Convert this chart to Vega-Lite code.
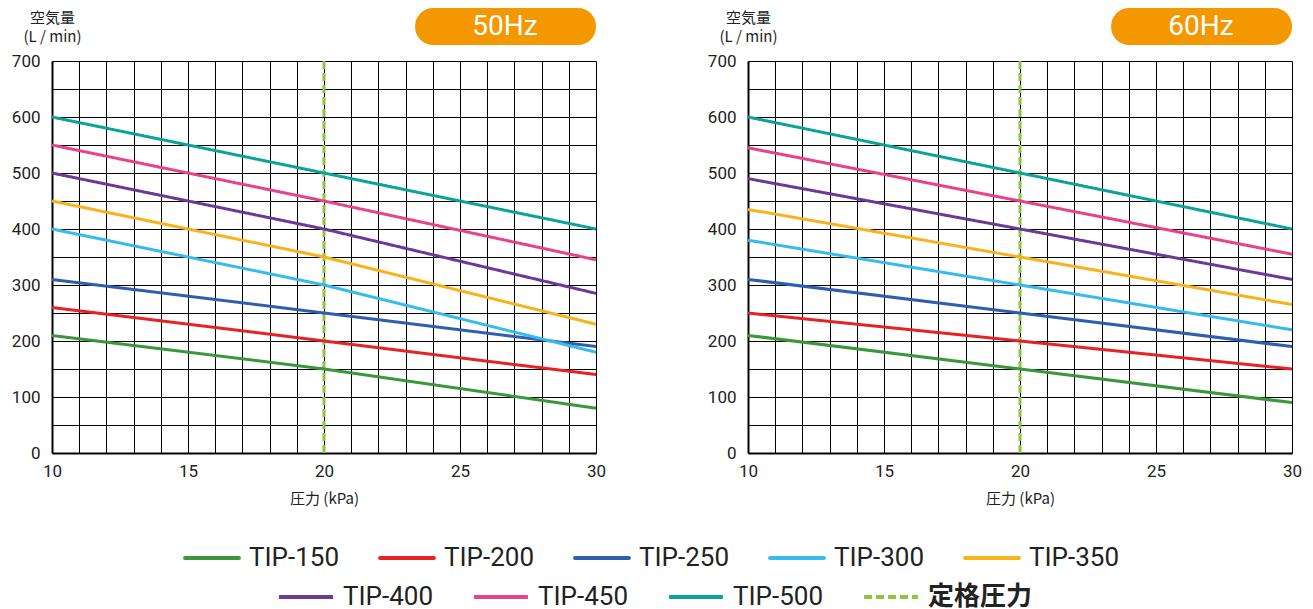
{
  "$schema": "https://vega.github.io/schema/vega-lite/v6.json",
  "padding": {"left": 11, "top": 8, "right": 5, "bottom": 0},
  "background": "white",
  "datasets": {
    "curves": [
      {"freq": "50Hz", "series": "TIP-150", "kPa": 10, "flow": 210},
      {"freq": "50Hz", "series": "TIP-150", "kPa": 20, "flow": 150},
      {"freq": "50Hz", "series": "TIP-150", "kPa": 30, "flow": 80},
      {"freq": "50Hz", "series": "TIP-200", "kPa": 10, "flow": 260},
      {"freq": "50Hz", "series": "TIP-200", "kPa": 20, "flow": 200},
      {"freq": "50Hz", "series": "TIP-200", "kPa": 30, "flow": 140},
      {"freq": "50Hz", "series": "TIP-250", "kPa": 10, "flow": 310},
      {"freq": "50Hz", "series": "TIP-250", "kPa": 20, "flow": 250},
      {"freq": "50Hz", "series": "TIP-250", "kPa": 30, "flow": 190},
      {"freq": "50Hz", "series": "TIP-300", "kPa": 10, "flow": 400},
      {"freq": "50Hz", "series": "TIP-300", "kPa": 20, "flow": 300},
      {"freq": "50Hz", "series": "TIP-300", "kPa": 30, "flow": 180},
      {"freq": "50Hz", "series": "TIP-350", "kPa": 10, "flow": 450},
      {"freq": "50Hz", "series": "TIP-350", "kPa": 20, "flow": 350},
      {"freq": "50Hz", "series": "TIP-350", "kPa": 30, "flow": 230},
      {"freq": "50Hz", "series": "TIP-400", "kPa": 10, "flow": 500},
      {"freq": "50Hz", "series": "TIP-400", "kPa": 20, "flow": 400},
      {"freq": "50Hz", "series": "TIP-400", "kPa": 30, "flow": 285},
      {"freq": "50Hz", "series": "TIP-450", "kPa": 10, "flow": 550},
      {"freq": "50Hz", "series": "TIP-450", "kPa": 20, "flow": 450},
      {"freq": "50Hz", "series": "TIP-450", "kPa": 30, "flow": 345},
      {"freq": "50Hz", "series": "TIP-500", "kPa": 10, "flow": 600},
      {"freq": "50Hz", "series": "TIP-500", "kPa": 20, "flow": 500},
      {"freq": "50Hz", "series": "TIP-500", "kPa": 30, "flow": 400},
      {"freq": "60Hz", "series": "TIP-150", "kPa": 10, "flow": 210},
      {"freq": "60Hz", "series": "TIP-150", "kPa": 20, "flow": 150},
      {"freq": "60Hz", "series": "TIP-150", "kPa": 30, "flow": 90},
      {"freq": "60Hz", "series": "TIP-200", "kPa": 10, "flow": 250},
      {"freq": "60Hz", "series": "TIP-200", "kPa": 20, "flow": 200},
      {"freq": "60Hz", "series": "TIP-200", "kPa": 30, "flow": 150},
      {"freq": "60Hz", "series": "TIP-250", "kPa": 10, "flow": 310},
      {"freq": "60Hz", "series": "TIP-250", "kPa": 20, "flow": 250},
      {"freq": "60Hz", "series": "TIP-250", "kPa": 30, "flow": 190},
      {"freq": "60Hz", "series": "TIP-300", "kPa": 10, "flow": 380},
      {"freq": "60Hz", "series": "TIP-300", "kPa": 20, "flow": 300},
      {"freq": "60Hz", "series": "TIP-300", "kPa": 30, "flow": 220},
      {"freq": "60Hz", "series": "TIP-350", "kPa": 10, "flow": 435},
      {"freq": "60Hz", "series": "TIP-350", "kPa": 20, "flow": 350},
      {"freq": "60Hz", "series": "TIP-350", "kPa": 30, "flow": 265},
      {"freq": "60Hz", "series": "TIP-400", "kPa": 10, "flow": 490},
      {"freq": "60Hz", "series": "TIP-400", "kPa": 20, "flow": 400},
      {"freq": "60Hz", "series": "TIP-400", "kPa": 30, "flow": 310},
      {"freq": "60Hz", "series": "TIP-450", "kPa": 10, "flow": 545},
      {"freq": "60Hz", "series": "TIP-450", "kPa": 20, "flow": 450},
      {"freq": "60Hz", "series": "TIP-450", "kPa": 30, "flow": 355},
      {"freq": "60Hz", "series": "TIP-500", "kPa": 10, "flow": 600},
      {"freq": "60Hz", "series": "TIP-500", "kPa": 20, "flow": 500},
      {"freq": "60Hz", "series": "TIP-500", "kPa": 30, "flow": 400}
    ],
    "rated": [
      {"freq": "50Hz", "series": "定格圧力", "kPa": 20},
      {"freq": "60Hz", "series": "定格圧力", "kPa": 20}
    ],
    "badges": [
      {"freq": "50Hz", "label": "50Hz"},
      {"freq": "60Hz", "label": "60Hz"}
    ]
  },
  "hconcat": [
    {
      "width": 544,
      "height": 392,
      "layer": [
        {
          "data": {"name": "rated"},
          "transform": [{"filter": "datum.freq === '50Hz'"}],
          "mark": {"type": "rule", "strokeWidth": 3},
          "encoding": {
            "x": {"field": "kPa", "type": "quantitative", "scale": {"domain": [10, 30], "nice": false, "zero": false},
              "axis": {"title": "圧力 (kPa)", "tickCount": 20, "labelExpr": "datum.value % 5 === 0 ? datum.label : ''"}},
            "stroke": {"field": "series", "type": "nominal",
              "scale": {"domain": ["TIP-400", "TIP-450", "TIP-500", "定格圧力"], "range": ["#6B3A97", "#E9428B", "#0AA39A", "#8CC63F"]},
              "legend": {"orient": "none", "legendX": 225, "legendY": 507, "direction": "horizontal", "title": null,
                "encode": {"symbols": {"update": {"strokeCap": {"value": "butt"}}}, "labels": {"update": {"fontWeight": {"signal": "datum.label === '定格圧力' ? 'bold' : 'normal'"}}}}}},
            "strokeDash": {"field": "series", "type": "nominal",
              "scale": {"domain": ["TIP-400", "TIP-450", "TIP-500", "定格圧力"], "range": [[1, 0], [1, 0], [1, 0], [8, 4]]},
              "legend": {"orient": "none", "legendX": 225, "legendY": 507, "direction": "horizontal", "title": null,
                "encode": {"symbols": {"update": {"strokeCap": {"value": "butt"}}}, "labels": {"update": {"fontWeight": {"signal": "datum.label === '定格圧力' ? 'bold' : 'normal'"}}}}}}
          }
        },
        {
          "data": {"name": "curves"},
          "transform": [{"filter": "datum.freq === '50Hz'"}, {"filter": {"field": "series", "oneOf": ["TIP-150", "TIP-200", "TIP-250", "TIP-300", "TIP-350"]}}],
          "mark": {"type": "line", "strokeWidth": 3},
          "encoding": {
            "x": {"field": "kPa", "type": "quantitative", "scale": {"domain": [10, 30], "nice": false, "zero": false},
              "axis": {"title": "圧力 (kPa)", "tickCount": 20, "labelExpr": "datum.value % 5 === 0 ? datum.label : ''"}},
            "y": {"field": "flow", "type": "quantitative", "scale": {"domain": [0, 700], "nice": false},
              "axis": {"title": ["空気量", "(L / min)"], "tickCount": 14, "labelExpr": "datum.value % 100 === 0 ? datum.label : ''"}},
            "color": {"field": "series", "type": "nominal",
              "scale": {"domain": ["TIP-150", "TIP-200", "TIP-250", "TIP-300", "TIP-350"], "range": ["#3A983A", "#E62224", "#2E5FAE", "#35BCEC", "#F6B31A"]},
              "legend": {"orient": "none", "legendX": 131, "legendY": 468, "direction": "horizontal", "title": null,
                "encode": {"symbols": {"update": {"strokeCap": {"value": "round"}}}}}}
          }
        },
        {
          "data": {"name": "curves"},
          "transform": [{"filter": "datum.freq === '50Hz'"}, {"filter": {"field": "series", "oneOf": ["TIP-400", "TIP-450", "TIP-500"]}}],
          "mark": {"type": "line", "strokeWidth": 3},
          "encoding": {
            "x": {"field": "kPa", "type": "quantitative"},
            "y": {"field": "flow", "type": "quantitative"},
            "stroke": {"field": "series", "type": "nominal"},
            "strokeDash": {"field": "series", "type": "nominal"}
          }
        },
        {
          "data": {"name": "badges"},
          "transform": [{"filter": "datum.freq === '50Hz'"}],
          "mark": {"type": "rect", "color": "#F39800", "cornerRadius": 18},
          "encoding": {
            "x": {"datum": 23.35, "type": "quantitative"},
            "x2": {"datum": 30},
            "y": {"datum": 794.6, "type": "quantitative"},
            "y2": {"datum": 728.6}
          }
        },
        {
          "data": {"name": "badges"},
          "transform": [{"filter": "datum.freq === '50Hz'"}],
          "mark": {"type": "text", "color": "white", "font": "Roboto", "fontSize": 28, "baseline": "middle", "align": "center"},
          "encoding": {
            "x": {"datum": 26.65, "type": "quantitative"},
            "y": {"datum": 760, "type": "quantitative"},
            "text": {"field": "label"}
          }
        }
      ]
    },
    {
      "width": 544,
      "height": 392,
      "layer": [
        {
          "data": {"name": "rated"},
          "transform": [{"filter": "datum.freq === '60Hz'"}],
          "mark": {"type": "rule", "strokeWidth": 3},
          "encoding": {
            "x": {"field": "kPa", "type": "quantitative", "scale": {"domain": [10, 30], "nice": false, "zero": false},
              "axis": {"title": "圧力 (kPa)", "tickCount": 20, "labelExpr": "datum.value % 5 === 0 ? datum.label : ''"}},
            "stroke": {"field": "series", "type": "nominal"},
            "strokeDash": {"field": "series", "type": "nominal"}
          }
        },
        {
          "data": {"name": "curves"},
          "transform": [{"filter": "datum.freq === '60Hz'"}, {"filter": {"field": "series", "oneOf": ["TIP-150", "TIP-200", "TIP-250", "TIP-300", "TIP-350"]}}],
          "mark": {"type": "line", "strokeWidth": 3},
          "encoding": {
            "x": {"field": "kPa", "type": "quantitative", "scale": {"domain": [10, 30], "nice": false, "zero": false},
              "axis": {"title": "圧力 (kPa)", "tickCount": 20, "labelExpr": "datum.value % 5 === 0 ? datum.label : ''"}},
            "y": {"field": "flow", "type": "quantitative", "scale": {"domain": [0, 700], "nice": false},
              "axis": {"title": ["空気量", "(L / min)"], "tickCount": 14, "labelExpr": "datum.value % 100 === 0 ? datum.label : ''"}},
            "color": {"field": "series", "type": "nominal"}
          }
        },
        {
          "data": {"name": "curves"},
          "transform": [{"filter": "datum.freq === '60Hz'"}, {"filter": {"field": "series", "oneOf": ["TIP-400", "TIP-450", "TIP-500"]}}],
          "mark": {"type": "line", "strokeWidth": 3},
          "encoding": {
            "x": {"field": "kPa", "type": "quantitative"},
            "y": {"field": "flow", "type": "quantitative"},
            "stroke": {"field": "series", "type": "nominal"},
            "strokeDash": {"field": "series", "type": "nominal"}
          }
        },
        {
          "data": {"name": "badges"},
          "transform": [{"filter": "datum.freq === '60Hz'"}],
          "mark": {"type": "rect", "color": "#F39800", "cornerRadius": 18},
          "encoding": {
            "x": {"datum": 23.35, "type": "quantitative"},
            "x2": {"datum": 30},
            "y": {"datum": 794.6, "type": "quantitative"},
            "y2": {"datum": 728.6}
          }
        },
        {
          "data": {"name": "badges"},
          "transform": [{"filter": "datum.freq === '60Hz'"}],
          "mark": {"type": "text", "color": "white", "font": "Roboto", "fontSize": 28, "baseline": "middle", "align": "center"},
          "encoding": {
            "x": {"datum": 26.65, "type": "quantitative"},
            "y": {"datum": 760, "type": "quantitative"},
            "text": {"field": "label"}
          }
        }
      ]
    }
  ],
  "spacing": 101,
  "resolve": {
    "scale": {"color": "shared", "stroke": "shared", "strokeDash": "shared"},
    "legend": {"color": "shared", "stroke": "shared", "strokeDash": "shared"}
  },
  "config": {
    "view": {"stroke": null},
    "axis": {
      "grid": true,
      "gridColor": "#000000",
      "gridWidth": 1,
      "gridOpacity": 1,
      "domainColor": "#000000",
      "domainWidth": 2,
      "ticks": false,
      "labelFlush": false,
      "labelOverlap": false,
      "labelFont": "Roboto",
      "labelColor": "#222222",
      "labelFontSize": 16,
      "titleFont": "Noto Sans CJK JP",
      "titleFontWeight": "normal",
      "titleColor": "#222222",
      "titleFontSize": 15
    },
    "axisX": {"labelPadding": 10, "titlePadding": 12, "labelFontSize": 17},
    "axisY": {
      "labelPadding": 12,
      "labelFontSize": 17,
      "titleAngle": 0,
      "titleAlign": "center",
      "titleBaseline": "bottom",
      "titleX": 0,
      "titleY": -36,
      "titleLineHeight": 19
    },
    "legend": {
      "symbolType": "stroke",
      "symbolSize": 2900,
      "symbolStrokeWidth": 4,
      "labelFont": "Roboto, 'Noto Sans CJK JP'",
      "labelFontSize": 26,
      "labelColor": "#222222",
      "labelOffset": 8,
      "columnPadding": 32,
      "padding": 0
    }
  }
}
